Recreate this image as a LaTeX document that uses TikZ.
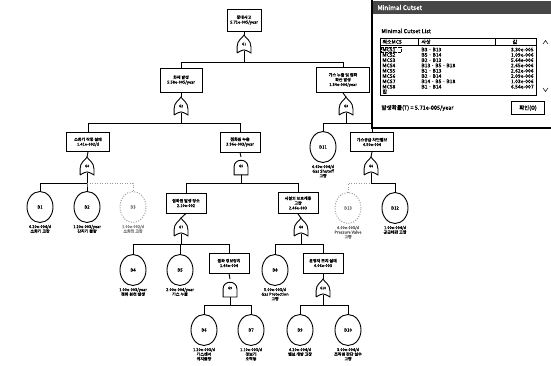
\documentclass[tikz,border=0pt]{standalone}
\usepackage{fontspec}
\setmainfont{Noto Sans CJK KR}[AutoFakeBold=1.2]
\usetikzlibrary{shapes.geometric,positioning}

% gate outlines drawn over an empty gate node
\newcommand{\orgate}[1]{%
  \draw (#1.south west) -- ([yshift=6pt]#1.south west)
    .. controls ([yshift=13pt]#1.south west) and ([xshift=-1.5pt,yshift=-3pt]#1.north) .. (#1.north)
    .. controls ([xshift=1.5pt,yshift=-3pt]#1.north) and ([yshift=13pt]#1.south east) .. ([yshift=6pt]#1.south east)
    -- (#1.south east) .. controls ([yshift=4pt]#1.south) .. (#1.south west);
  \draw ([yshift=2pt]#1.south) -- (#1.south);}
\newcommand{\andgate}[1]{%
  \draw (#1.south west) -- ([yshift=8pt]#1.south west)
    .. controls ([yshift=-1pt]#1.north west) and ([yshift=-1pt]#1.north east) .. ([yshift=8pt]#1.south east)
    -- (#1.south east) -- cycle;}

\tikzset{
  event/.style={draw, align=center, minimum width=40pt, minimum height=20pt, inner sep=1pt,
    font=\fontsize{4}{4.8}\selectfont\bfseries},
  basic/.style={draw, ellipse, minimum width=26pt, minimum height=31pt, inner sep=0pt,
    font=\fontsize{4.4}{5}\selectfont\bfseries},
  faint/.style={draw=black!40, dash pattern=on 1pt off 1.5pt, text=black!50},
  gate/.style={minimum width=13pt, minimum height=17pt, inner sep=0pt, font=\fontsize{3.4}{4}\selectfont\bfseries},
  desc/.style={align=center, inner sep=0.5pt, font=\fontsize{4}{4.6}\selectfont\bfseries},
  wintext/.style={inner sep=0pt, font=\fontsize{5.6}{6.5}\selectfont\bfseries},
  cell/.style={inner sep=0pt, font=\fontsize{5}{5.4}\selectfont\bfseries},
}

\begin{document}
\begin{tikzpicture}[x=1pt, y=-1pt, line width=0.9pt]
  \useasboundingbox (0,0) rectangle (551,366);

  % top event
  \node[event, minimum width=34pt, minimum height=22pt] (top) at (244,20) {중대사고\\5.71e-005/year};
  \node[gate] (g1) at (244,44) {G1};
  \orgate{g1}
  \draw (top.south) -- (g1.north);

  % second level
  \node[event, minimum width=42pt, minimum height=24pt] (fire) at (181,80) {화재 발생\\5.58e-005/year};
  \node[gate] (g2) at (181,106) {G2};
  \orgate{g2}
  \node[event, minimum width=53pt, minimum height=25pt] (leak) at (343,80) {가스 누출 및 점화\\확산 발생\\1.34e-006/year};
  \node[gate] (g3) at (346,106) {G3};
  \orgate{g3}
  \draw (g1.south) -- ++(0,9.5) -| (fire.north);
  \draw (g1.south) -- ++(0,9.5) -| (leak.north);
  \draw (fire.south) -- (g2.north);
  \draw (leak.south) -- (g3.north);

  % third level
  \node[event, minimum width=43pt, minimum height=19pt] (ext) at (88,142) {소화기 작동 실패\\1.41e-002/d};
  \node[gate] (g4) at (87,166) {G4};
  \orgate{g4}
  \node[event] (ign) at (240,142) {점화원 누출\\3.96e-003/year};
  \node[gate] (g5) at (241,166) {G5};
  \andgate{g5}
  \node[basic] (b11) at (323,147) {B11};
  \node[desc, below=1pt of b11] (b11d) {6.60e-004/d\\Gas Shutoff\\고장};
  \node[event, minimum width=43pt, minimum height=19pt] (shut) at (372,142) {가스공급 차단밸브\\4.50e-004};
  \node[gate] (g6) at (371,166) {G6};
  \orgate{g6}
  \draw (g2.south) -- ++(0,8.5) -| (ext.north);
  \draw (g2.south) -- ++(0,8.5) -| (ign.north);
  \draw (g3.south) -- ++(0,8.5) -| (b11.north);
  \draw (g3.south) -- ++(0,8.5) -| (shut.north);
  \draw (ext.south) -- (g4.north);
  \draw (ign.south) -- (g5.north);
  \draw (shut.south) -- (g6.north);

  % fourth level
  \node[basic] (b1) at (40,207) {B1};
  \node[desc, below=1pt of b1] (b1d) {6.20e-004/d\\소화기 고장};
  \node[basic] (b2) at (87,207) {B2};
  \node[desc, below=1pt of b2] (b2d) {1.20e-003/year\\감지기 불량};
  \node[basic, faint] (b3) at (133,207) {B3};
  \node[desc, below=1pt of b3, text=black!50] (b3d) {1.00e-002/d\\소화전 고장};
  \draw (g4.south) -- ++(0,8.5) -| (b1.north);
  \draw (g4.south) -- ++(0,8.5) -| (b2.north);
  \draw[faint] (b2.north |- 0,183) -| (b3.north);

  \node[event] (src) at (186,203) {점화원 발생 장소\\2.10e-002};
  \node[gate] (g7) at (181,227) {G7};
  \orgate{g7}
  \node[event, minimum height=21pt] (prot) at (298,203) {시설의 보호계통\\고장\\2.46e-003};
  \node[gate] (g8) at (301,227) {G8};
  \orgate{g8}
  \draw (g5.south) -- ++(0,8.5) -| (src.north);
  \draw (g5.south) -- ++(0,8.5) -| (prot.north);
  \draw (src.south) -- (g7.north);
  \draw (prot.south) -- (g8.north);

  \node[basic, faint] (b13) at (348,208) {B13};
  \node[desc, below=1pt of b13, text=black!60] (b13d) {4.00e-003/d\\Pressure Valve\\고장};
  \node[basic] (b12) at (395,208) {B12};
  \node[desc, below=1pt of b12] (b12d) {1.00e-004/d\\공급배관 고장};
  \draw[faint] (g6.south) -- ++(0,8.5) -| (b13.north);
  \draw (g6.south) -- ++(0,8.5) -| (b12.north);

  % fifth level
  \node[basic] (b4) at (133,270) {B4};
  \node[desc, below=1pt of b4] (b4d) {1.00e-003/year\\점화 원천 발생};
  \node[basic] (b5) at (180,270) {B5};
  \node[desc, below=1pt of b5] (b5d) {2.00e-004/year\\가스 누출};
  \node[event] (alarm) at (229,263) {점화 경보장치\\1.44e-004};
  \node[gate] (g9) at (230,288) {G9};
  \andgate{g9}
  \draw (g7.south) -- ++(0,8.5) -| (b4.north);
  \draw (g7.south) -- ++(0,8.5) -| (b5.north);
  \draw (g7.south) -- ++(0,8.5) -| (alarm.north);
  \draw (alarm.south) -- (g9.north);

  \node[basic] (b8) at (275,270) {B8};
  \node[desc, below=1pt of b8] (b8d) {5.00e-003/d\\Gas Protection\\고장};
  \node[event] (oper) at (323,263) {운영자 조치 실패\\4.06e-003};
  \node[gate] (g10) at (323,288) {G10};
  \orgate{g10}
  \draw (g8.south) -- ++(0,8.5) -| (b8.north);
  \draw (g8.south) -- ++(0,8.5) -| (oper.north);
  \draw (oper.south) -- (g10.north);

  % bottom level
  \node[basic] (b6) at (204,330) {B6};
  \node[desc, below=1pt of b6] (b6d) {1.20e-003/d\\가스센서\\위치불량};
  \node[basic] (b7) at (251,330) {B7};
  \node[desc, below=1pt of b7] (b7d) {1.10e-003/d\\경보기\\오작동};
  \draw (g9.south) -- ++(0,8.5) -| (b6.north);
  \draw (g9.south) -- ++(0,8.5) -| (b7.north);
  \node[basic] (b9) at (300,330) {B9};
  \node[desc, below=1pt of b9] (b9d) {4.20e-004/d\\밸브 개방 고장};
  \node[basic] (b10) at (348,330) {B10};
  \node[desc, below=1pt of b10] (b10d) {3.00e-004/d\\조작원 판단 실수\\고장};
  \draw (g10.south) -- ++(0,8.5) -| (b9.north);
  \draw (g10.south) -- ++(0,8.5) -| (b10.north);

  % minimal cutset window
  \fill[white] (372,0) rectangle (551,128);
  \draw[line width=1.6pt] (372,0) -- (372,128) -- (551,128);
  \fill[black!72] (373,1) rectangle (551,14);
  \node[wintext, anchor=west, text=white, font=\fontsize{6.4}{7}\selectfont\bfseries] (wtitle) at (377,7.5) {Minimal Cutset};
  \node[wintext, anchor=west] (wlist) at (381,31) {Minimal Cutset List};
  \draw[line width=0.6pt] (380,38) rectangle (536,95);
  \draw[line width=0.5pt] (380,45.5) -- (536,45.5);
  \draw[line width=0.5pt] (418,38) -- (418,45.5);
  \draw[line width=0.5pt] (495,38) -- (495,45.5);
  \node[cell, anchor=west] (hmcs) at (382,41.8) {최소MCS};
  \node[cell, anchor=west] (hev) at (421,41.8) {사상};
  \node[cell] (hval) at (515,41.8) {값};
  \foreach \i/\m/\e/\v in {1/MCS1/B3 · B13/3.30e-005, 2/MCS2/B5 · B14/1.09e-006,
      3/MCS3/B2 · B13/5.64e-006, 4/MCS4/B13 · B5 · B18/2.65e-006,
      5/MCS5/B1 · B13/2.62e-006, 6/MCS6/B2 · B14/2.09e-006,
      7/MCS7/B14 · B5 · B18/1.03e-006, 8/MCS8/B1 · B14/6.54e-007} {
    \node[cell, anchor=west] (m\i) at (382,44.3+5.3*\i) {\m};
    \node[cell, anchor=west] (e\i) at (421,44.3+5.3*\i) {\e};
    \node[cell, anchor=east] (v\i) at (534,44.3+5.3*\i) {\v};
  }
  \node[cell, anchor=west] (msum) at (382,91.6) {합};
  \draw[line width=0.3pt, densely dotted] (381,46.8) rectangle (401,52.2);
  \draw[line width=0.5pt] (543,44) -- (545.5,40.5) -- (548,44);
  \draw[line width=0.5pt] (543,88) -- (545.5,91.5) -- (548,88);
  \node[wintext, anchor=west] (ptotal) at (381,108) {발생확률(T) = 5.71e-005/year};
  \node[draw, line width=0.8pt, minimum width=33pt, minimum height=13pt, inner sep=0pt,
    font=\fontsize{5.4}{6}\selectfont\bfseries] (ok) at (528,108) {확인(O)};
\end{tikzpicture}
\end{document}
